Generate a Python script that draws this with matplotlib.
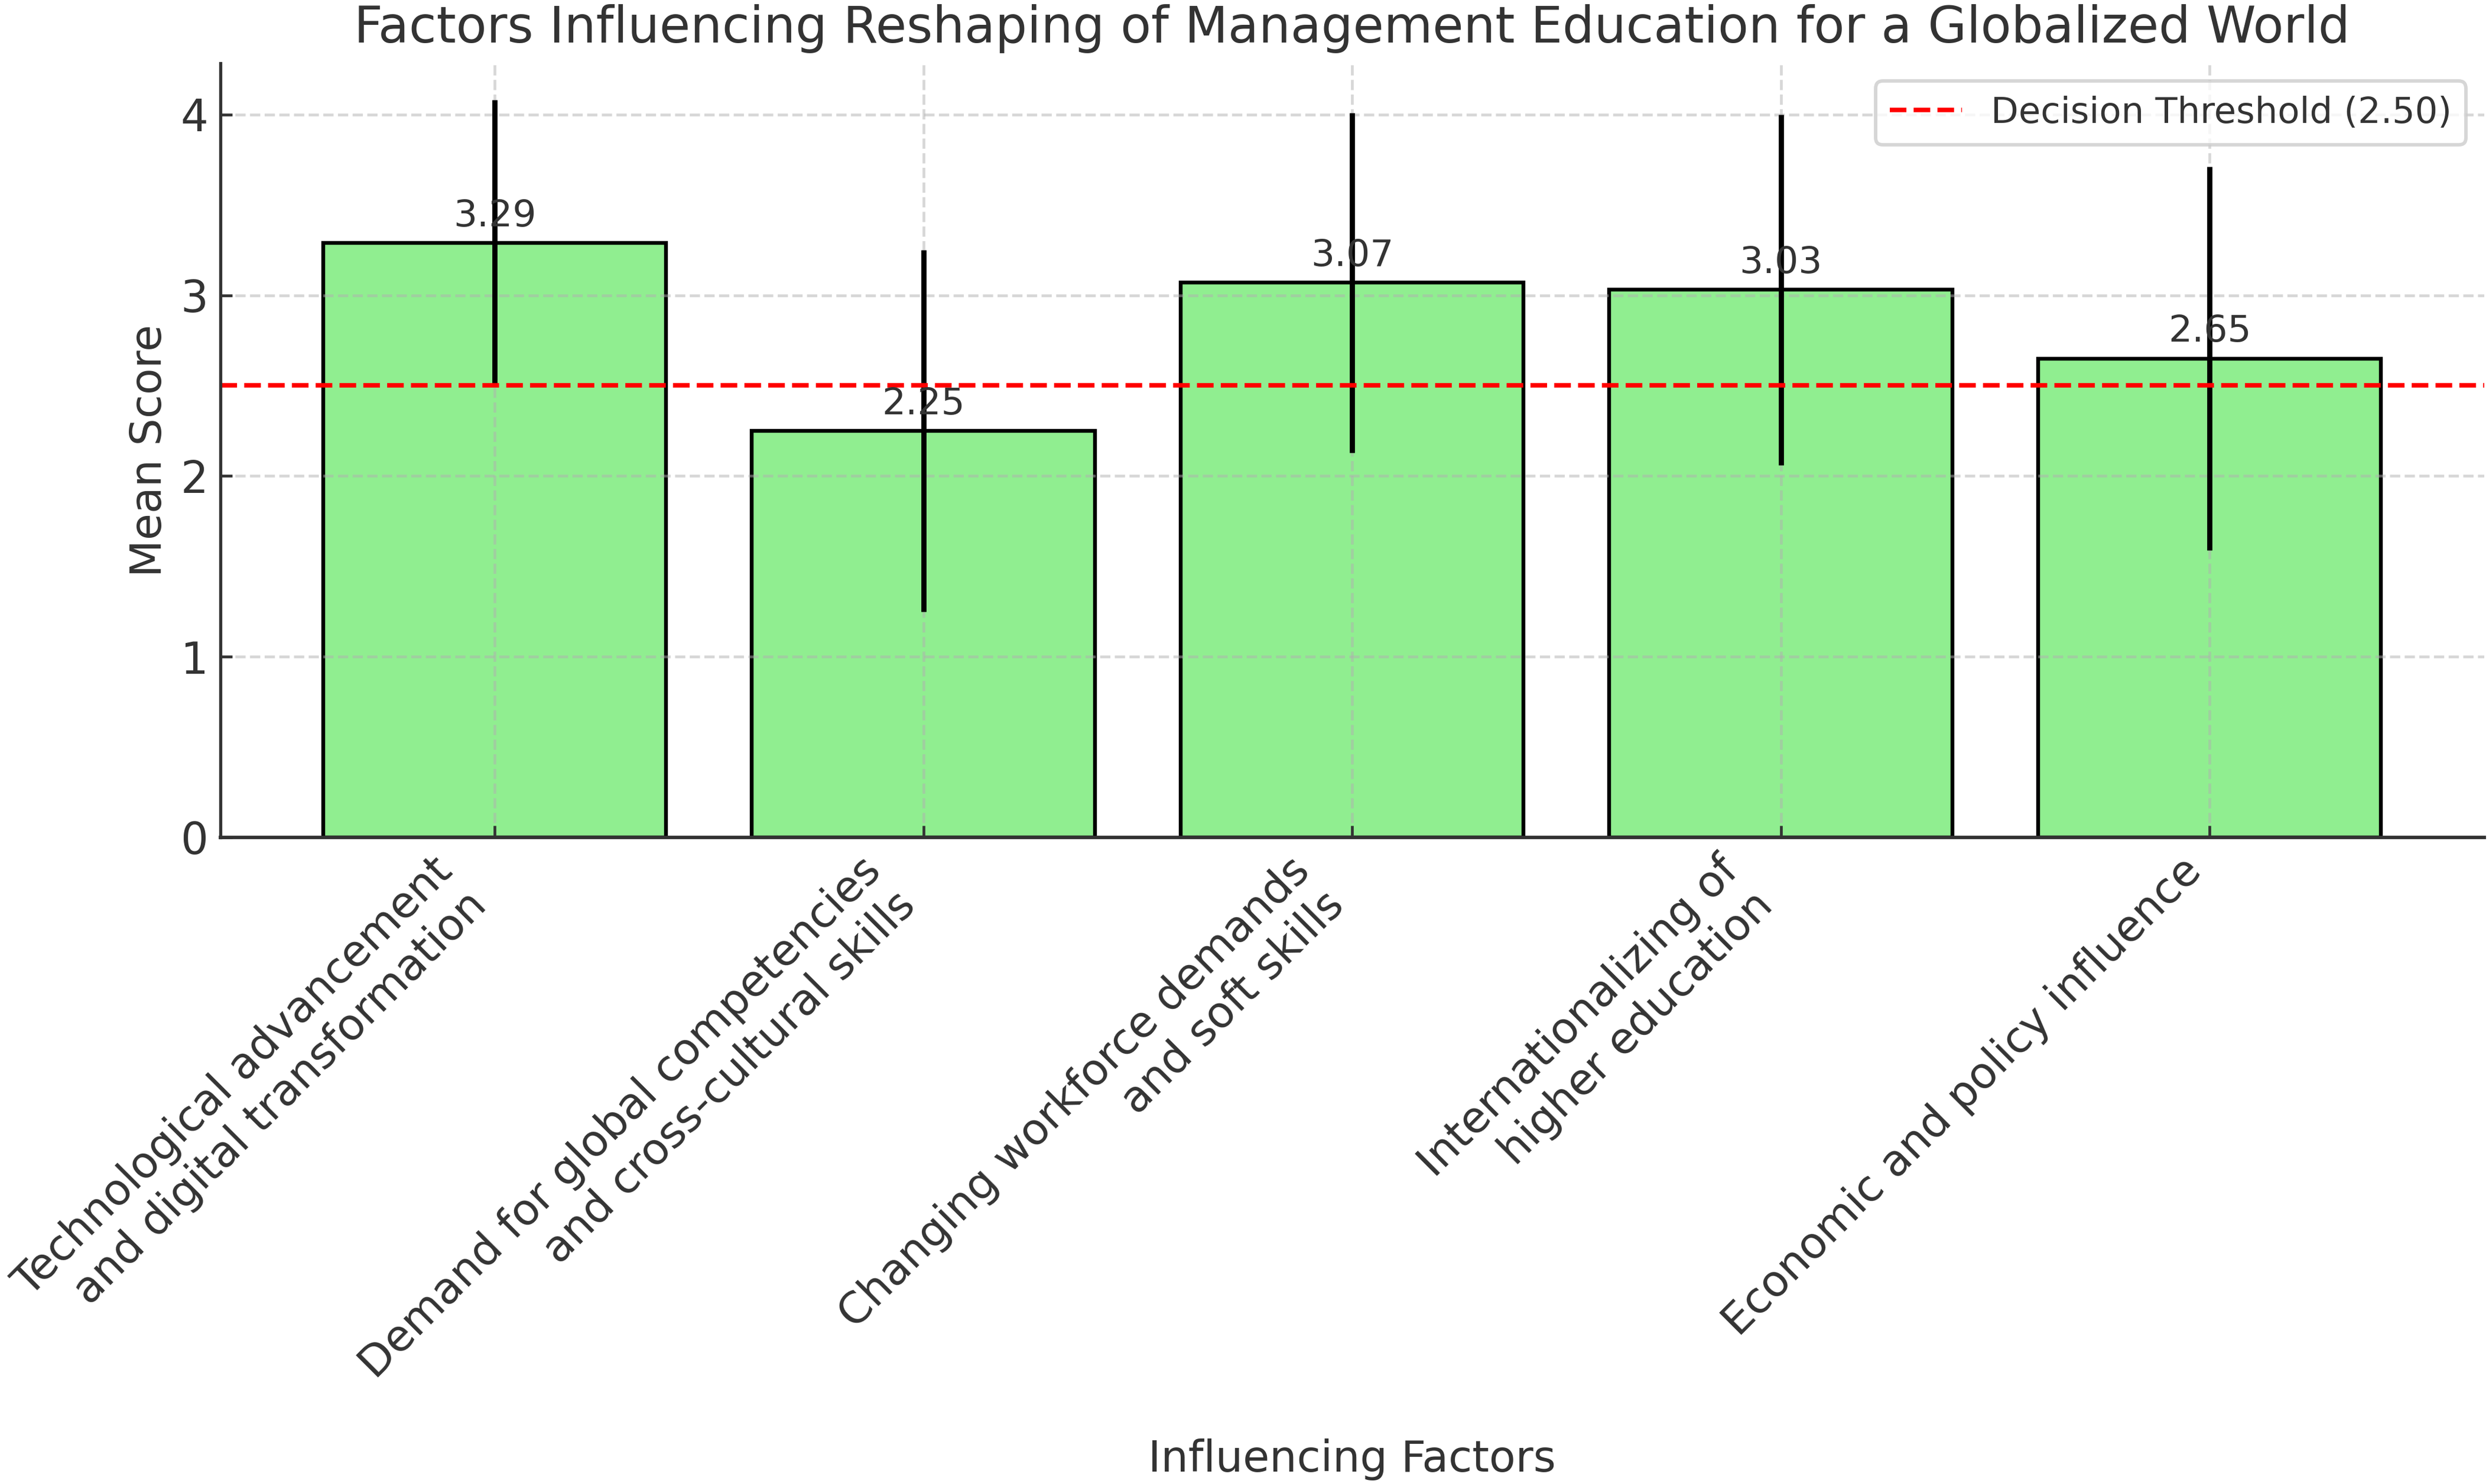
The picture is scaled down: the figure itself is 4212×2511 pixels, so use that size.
import matplotlib
matplotlib.use("Agg")
import matplotlib.pyplot as plt

categories = [
    "Technological advancement\nand digital transformation",
    "Demand for global competencies\nand cross-cultural skills",
    "Changing workforce demands\nand soft skills",
    "Internationalizing of\nhigher education",
    "Economic and policy influence",
]
mean_scores = [3.29, 2.25, 3.07, 3.03, 2.65]
std_devs = [0.79, 1.00, 0.94, 0.97, 1.06]
threshold = 2.50

TXT = "#333333"
plt.rcParams["font.family"] = ["DejaVu Sans"]
plt.rcParams["text.color"] = TXT
plt.rcParams["axes.labelcolor"] = TXT
plt.rcParams["xtick.color"] = TXT
plt.rcParams["ytick.color"] = TXT
plt.rcParams["axes.edgecolor"] = TXT
plt.rcParams["xtick.direction"] = "in"
plt.rcParams["ytick.direction"] = "in"

fig = plt.figure(figsize=(10, 2511 / 421.2), dpi=421.2)
ax = fig.add_axes([0.0885, 0.4357, 0.998 - 0.0885, 0.9574 - 0.4357])

x = list(range(len(categories)))
bars = ax.bar(x, mean_scores, width=0.8, color="lightgreen", edgecolor="black",
              linewidth=1.1, yerr=std_devs, error_kw=dict(ecolor="black", elinewidth=1.5, capsize=0))

ax.axhline(threshold, color="red", linestyle="--", linewidth=1.3,
           label=f"Decision Threshold ({threshold:.2f})")

for xi, v in zip(x, mean_scores):
    ax.text(xi, v + 0.05, f"{v:.2f}", ha="center", va="bottom", fontsize=10.8, color=TXT)

ax.set_xticks(x)
ax.set_xticklabels(categories, rotation=45, ha="right", fontsize=12.5)
ax.tick_params(axis="y", labelsize=12.6)
ax.set_ylabel("Mean Score", fontsize=12.5, labelpad=3)
ax.set_xlabel("Influencing Factors", fontsize=12.5, labelpad=5)
ax.set_title("Factors Influencing Reshaping of Management Education for a Globalized World",
             fontsize=14.5, color=TXT)

ax.grid(True, linestyle="--", linewidth=0.8, color="#b0b0b0", alpha=0.5)
ax.spines["top"].set_visible(False)
ax.spines["right"].set_visible(False)
ax.spines["left"].set_linewidth(0.9)
ax.spines["bottom"].set_linewidth(1.0)

leg = ax.legend(loc="upper right", fontsize=10.4)

fig.savefig("out.png", dpi=421.2)
